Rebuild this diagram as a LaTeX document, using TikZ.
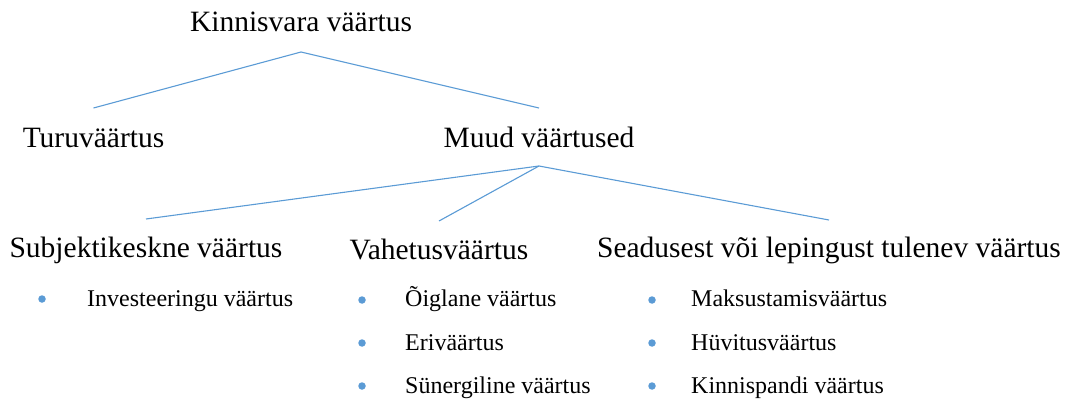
\documentclass[tikz,border=0pt]{standalone}
\usepackage{fontspec}
\setmainfont{Liberation Serif}
\usetikzlibrary{positioning}
\definecolor{linkblue}{HTML}{5B9BD5}

\begin{document}
\begin{tikzpicture}[x=1pt,y=-1pt,
        head/.style={font=\fontsize{29.5}{32}\selectfont,inner sep=0pt,anchor=base},
        item/.style={font=\fontsize{24}{26}\selectfont,inner sep=0pt,anchor=base west},
        dot/.style={circle,fill=linkblue,inner sep=0pt,minimum size=7.5pt},
        link/.style={draw=linkblue,line width=1.1pt}]
        \useasboundingbox (0,0) rectangle (1069,401);

        \node[head]     (root)  at (301,32)     {Kinnisvara väärtus};
        \node[head]     (turu)  at (93.5,148)   {Turuväärtus};
        \node[head]     (muud)  at (539,148)    {Muud väärtused};

        \node[head]     (subj)  at (146,258)    {Subjektikeskne väärtus};
        \node[head]     (vahe)  at (439,259)    {Vahetusväärtus};
        \node[head]     (sead)  at (829,258)    {Seadusest või lepingust tulenev väärtus};

        \node[dot]      (d1)    at (42,299)     {};
        \node[item]     (inv)   at (87,306)     {Investeeringu väärtus};

        \node[dot]      (d2)    at (362,300)    {};
        \node[item]     (oigl)  at (405,306)    {Õiglane väärtus};
        \node[dot]      (d3)    at (362,343)    {};
        \node[item]     (eri)   at (405,350)    {Eriväärtus};
        \node[dot]      (d4)    at (362,386)    {};
        \node[item]     (syn)   at (405,393)    {Sünergiline väärtus};

        \node[dot]      (d5)    at (652,300)    {};
        \node[item]     (maks)  at (691,306)    {Maksustamisväärtus};
        \node[dot]      (d6)    at (652,343)    {};
        \node[item]     (huvi)  at (691,350)    {Hüvitusväärtus};
        \node[dot]      (d7)    at (652,386)    {};
        \node[item]     (kinn)  at (691,393)    {Kinnispandi väärtus};

        \path[link]
            ([yshift=-20pt]root.base)   edge    ([yshift=40pt]turu.base)
            ([yshift=-20pt]root.base)   edge    ([yshift=40pt]muud.base)
            ([yshift=-18pt]muud.base)   edge    ([yshift=39pt]subj.base)
            ([yshift=-18pt]muud.base)   edge    ([yshift=38pt]vahe.base)
            ([yshift=-18pt]muud.base)   edge    ([yshift=38pt]sead.base)
            ;
    \end{tikzpicture}
\end{document}
